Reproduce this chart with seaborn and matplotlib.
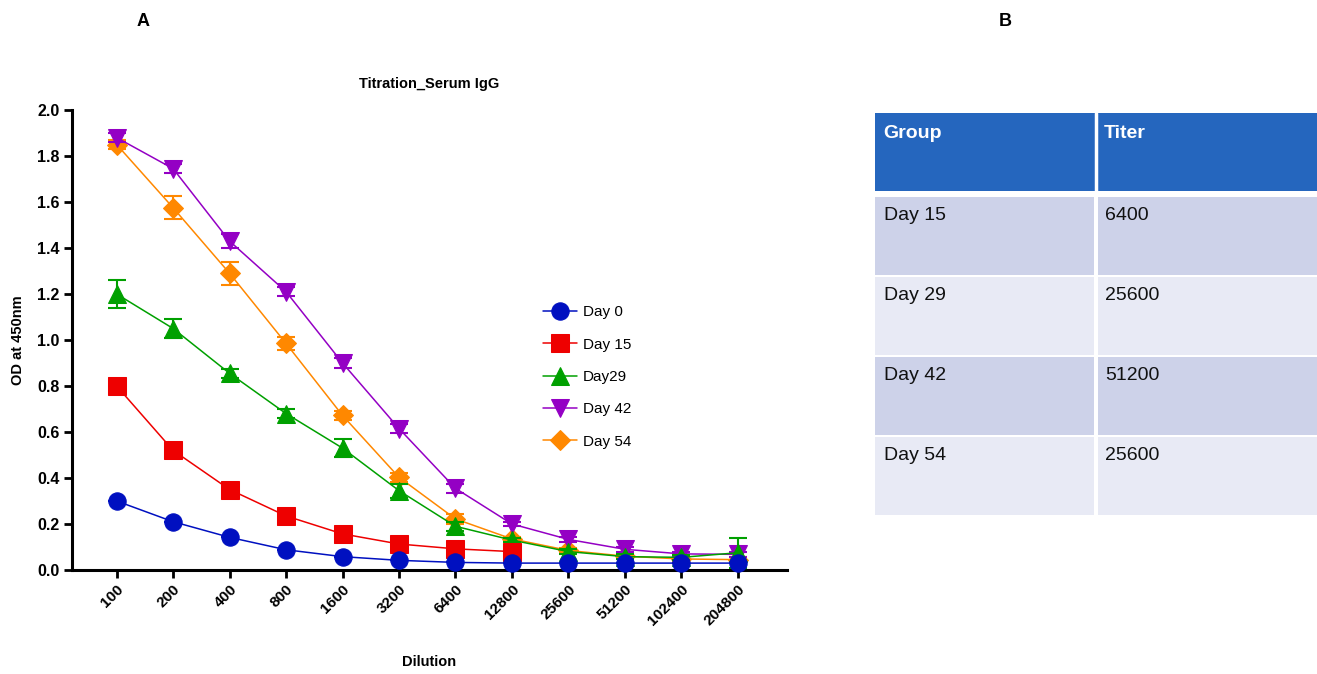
import numpy as np
import pandas as pd
import matplotlib.pyplot as plt
import seaborn as sns
from matplotlib.patches import Rectangle

# dilution series (x axis)
dilutions = [100, 200, 400, 800, 1600, 3200, 6400, 12800, 25600, 51200, 102400, 204800]
dil_labels = [str(d) for d in dilutions]

# OD at 450nm per group
day0 = [0.30, 0.21, 0.142, 0.088, 0.058, 0.042, 0.033, 0.03, 0.03, 0.03, 0.03, 0.03]
day15 = [0.80, 0.52, 0.35, 0.235, 0.157, 0.113, 0.092, 0.08, np.nan, np.nan, np.nan, np.nan]
day29 = [1.20, 1.05, 0.855, 0.68, 0.53, 0.345, 0.19, 0.13, 0.08, 0.058, 0.055, 0.075]
day42 = [1.88, 1.745, 1.43, 1.21, 0.90, 0.615, 0.355, 0.20, 0.133, 0.09, 0.07, 0.068]
day54 = [1.85, 1.575, 1.29, 0.985, 0.672, 0.403, 0.222, 0.135, 0.085, 0.06, 0.048, 0.045]

# error bars (SD)
sd0 = [0.0, 0.0, 0.0, 0.0, 0.0, 0.0, 0.0, 0.0, 0.0, 0.0, 0.0, 0.0]
sd15 = [0.0, 0.0, 0.0, 0.0, 0.0, 0.0, 0.0, 0.0, np.nan, np.nan, np.nan, np.nan]
sd29 = [0.06, 0.04, 0.02, 0.02, 0.04, 0.03, 0.02, 0.01, 0.01, 0.01, 0.01, 0.065]
sd42 = [0.02, 0.02, 0.03, 0.02, 0.02, 0.02, 0.02, 0.01, 0.01, 0.01, 0.01, 0.01]
sd54 = [0.02, 0.05, 0.05, 0.03, 0.02, 0.02, 0.02, 0.01, 0.01, 0.01, 0.01, 0.01]

groups = ["Day 0", "Day 15", "Day29", "Day 42", "Day 54"]
colores = ["#0010c0", "#ee0000", "#00a000", "#9400c4", "#ff8800"]
marcadores = ["o", "s", "^", "v", "D"]
tamanos = [12.5, 12.5, 13, 13, 10.5]

# table B
tabla_grupos = ["Day 15", "Day 29", "Day 42", "Day 54"]
tabla_titer = ["6400", "25600", "51200", "25600"]

valores = [day0, day15, day29, day42, day54]
errores = [sd0, sd15, sd29, sd42, sd54]

filas = []
for g, v, e in zip(groups, valores, errores):
    for d, y, s in zip(dilutions, v, e):
        filas.append({"Dilution": d, "OD": y, "SD": s, "Group": g})
df = pd.DataFrame(filas).dropna()

sns.set_style("ticks")
plt.rcParams['font.family'] = ['Liberation Sans', 'DejaVu Sans']
plt.rcParams['text.color'] = 'black'
plt.rcParams['axes.labelcolor'] = 'black'
plt.rcParams['xtick.color'] = 'black'
plt.rcParams['ytick.color'] = 'black'

fig = plt.figure(figsize=(13.17, 6.74), dpi=100)
ax = fig.add_axes([72 / 1317, 1 - 570 / 674, 715 / 1317, 460 / 674])

# draw last group first so Day 0 ends up on top
n = len(groups)
for k in reversed(range(n)):
    g, c, m, ms = groups[k], colores[k], marcadores[k], tamanos[k]
    sub = df[df["Group"] == g]
    z = 3 + (n - k)
    ax.errorbar(sub["Dilution"], sub["OD"], yerr=sub["SD"], fmt='none', ecolor=c,
                elinewidth=1.5, capsize=6.5, capthick=1.5, clip_on=False, zorder=z)
    sns.lineplot(data=sub, x="Dilution", y="OD", color=c, marker=m, markersize=ms,
                 markeredgecolor=c, linewidth=1.1, label=g, ax=ax, clip_on=False, zorder=z)

ax.set_xscale('log', base=2)
ax.set_xlim(100 * 2 ** -0.79, 100 * 2 ** 11.87)
ax.set_ylim(0, 2.0)
ax.set_xticks(dilutions)
ax.set_xticklabels(dil_labels, rotation=45, ha='right', rotation_mode='anchor',
                   fontweight='bold', fontsize=11)
ax.minorticks_off()
ax.set_yticks(np.arange(0, 2.01, 0.2))
ax.set_yticklabels([f"{t:.1f}" for t in np.arange(0, 2.01, 0.2)], fontweight='bold', fontsize=11.5)
ax.tick_params(axis='both', width=2, length=6, color='black', pad=3)
sns.despine(ax=ax)
for s in ["left", "bottom"]:
    ax.spines[s].set_linewidth(2.2)
    ax.spines[s].set_color('black')

ax.set_xlabel("Dilution", fontweight='bold', fontsize=10.5)
ax.set_ylabel("OD at 450nm", fontweight='bold', fontsize=10.5)
ax.xaxis.set_label_coords(0.5, -0.185)
ax.yaxis.set_label_coords(-0.066, 0.5)
ax.set_title("Titration_Serum IgG", fontweight='bold', fontsize=10.5, pad=16)

handles, labels = ax.get_legend_handles_labels()
orden = [labels.index(g) for g in groups]
ax.legend([handles[i] for i in orden], [labels[i] for i in orden],
          loc='upper left', bbox_to_anchor=(0.64, 0.605), frameon=False, fontsize=11,
          labelspacing=1.2, handlelength=2.2, handletextpad=0.4)

fig.text(143 / 1317, 1 - 22 / 674, "A", fontsize=13, fontweight='bold', ha='center', va='center')
fig.text(1005 / 1317, 1 - 22 / 674, "B", fontsize=13, fontweight='bold', ha='center', va='center')

# table panel
tx = fig.add_axes([875 / 1317, 1 - 515 / 674, 442 / 1317, 402 / 674])
tx.set_xlim(875, 1317)
tx.set_ylim(515, 113)
tx.axis('off')
col_x = [875, 1096]
col_w = [221, 221]
head_h = 78
row_h = 80
tx.add_patch(Rectangle((875, 113), 442, head_h, facecolor="#2566be", edgecolor='white', lw=0))
tx.add_line(plt.Line2D([1096, 1096], [113, 113 + head_h], color='white', lw=2.5))
tx.text(col_x[0] + 8, 133, "Group", color='white', fontsize=14, fontweight='bold', va='center')
tx.text(col_x[1] + 8, 133, "Titer", color='white', fontsize=14, fontweight='bold', va='center')
fondos = ["#cdd2e9", "#e8eaf5"]
for i, (g, t) in enumerate(zip(tabla_grupos, tabla_titer)):
    y0 = 113 + head_h + 4 + i * row_h
    for j in range(2):
        tx.add_patch(Rectangle((col_x[j] + (2 if j else 0), y0 + 2), col_w[j] - 2, row_h - 2,
                               facecolor=fondos[i % 2], lw=0))
    tx.text(col_x[0] + 9, y0 + 20, g, color='#111111', fontsize=14, va='center')
    tx.text(col_x[1] + 9, y0 + 20, t, color='#111111', fontsize=14, va='center')

plt.savefig("out.png", dpi=100)
